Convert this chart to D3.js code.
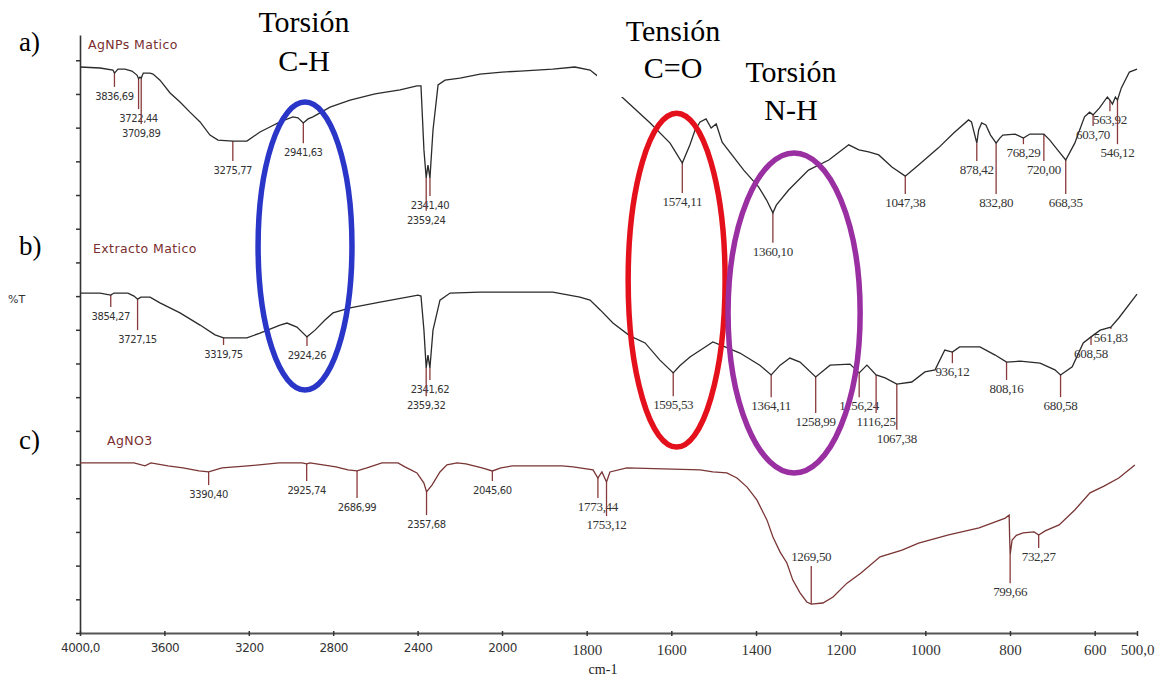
<!DOCTYPE html>
<html>
<head>
<meta charset="utf-8">
<script src="https://cdn.jsdelivr.net/npm/d3@7"></script>
<style>
body { margin: 0; background: #fff; }
svg { display: block; }
</style>
</head>
<body>
<div class="canvas"></div>
<script>
const width = 1159;
const height = 676;

// spectra: [wavenumber cm-1, %T in stacked units]
const specA = [[4000,16.80],[3905,16.77],[3844,16.71],[3836.69,16.62],[3820,16.74],[3787,16.74],[3754,16.68],[3730,16.56],[3722.44,16.45],[3716,16.50],[3709.89,16.47],[3700,16.62],[3668,16.62],[3654,16.59],[3621,16.41],[3573,16.03],[3526,15.76],[3479,15.46],[3431,15.17],[3384,14.78],[3346,14.63],[3275.77,14.60],[3209,14.60],[3147,14.87],[3100,15.02],[3052,15.17],[2991,15.32],[2967,15.29],[2941.63,15.14],[2919,15.26],[2896,15.32],[2815,15.61],[2720,15.82],[2602,16.00],[2483,16.12],[2403,16.24],[2384,16.24],[2370,14.34],[2359.24,13.51],[2351,13.89],[2341.40,13.51],[2327,14.93],[2303,16.27],[2270,16.41],[2199,16.47],[2104,16.59],[2000,16.65],[1957,16.68],[1880,16.74],[1828,16.80],[1792,16.71],[1768,16.47],[1740,16.18],[1709,15.82],[1650,15.14],[1603,14.54],[1574.11,13.95],[1556,14.49],[1544,14.93],[1532,15.17],[1518,15.26],[1506,14.99],[1494,15.11],[1480,14.57],[1429,13.74],[1394,13.24],[1375,12.85],[1360.10,12.47],[1352,12.70],[1323,13.15],[1276,13.74],[1228,14.04],[1181,14.49],[1157,14.34],[1134,14.28],[1110,14.19],[1079,13.83],[1047.38,13.56],[1016,13.89],[969,14.40],[933,14.84],[898,15.23],[891,15.17],[878.42,14.54],[874,14.93],[867,15.14],[857,15.08],[846,14.78],[832.80,14.54],[824,14.69],[817,14.78],[788,14.81],[768.29,14.69],[753,14.81],[720,14.81],[706,14.63],[682,14.25],[668.35,14.04],[647,14.54],[624,15.32],[612,15.46],[603.70,15.38],[589,15.58],[570,15.91],[563.92,15.82],[558,15.70],[551,15.91],[546.12,15.82],[537,16.18],[518,16.65],[500,16.74]];

const specB = [[4000,10.09],[3905,10.09],[3854.27,10.03],[3839,10.09],[3773,10.09],[3744,10.00],[3727.15,9.91],[3711,9.97],[3668,9.97],[3621,9.80],[3526,9.50],[3431,9.14],[3360,8.85],[3319.75,8.76],[3209,8.76],[3147,8.90],[3052,9.14],[3019,9.20],[2972,9.08],[2924.26,8.79],[2886,8.99],[2839,9.29],[2801,9.50],[2720,9.65],[2578,9.82],[2398,10.03],[2384,10.00],[2370,8.99],[2359.32,7.87],[2351,8.25],[2341.62,7.87],[2327,8.99],[2294,9.88],[2246,10.09],[2104,10.12],[2000,10.12],[1880,10.12],[1816,9.97],[1792,9.88],[1768,9.59],[1738,9.20],[1698,8.82],[1662,8.61],[1627,8.10],[1595.53,7.72],[1580,7.93],[1556,8.19],[1520,8.49],[1502,8.64],[1473,8.49],[1438,8.31],[1391,7.95],[1364.11,7.66],[1343,7.95],[1320,8.16],[1296,8.04],[1258.99,7.60],[1225,7.95],[1178,7.98],[1156.24,7.72],[1138,7.95],[1116.25,7.66],[1095,7.57],[1067.38,7.39],[1032,7.45],[1001,7.75],[977,7.81],[954,8.40],[936.12,8.34],[919,8.49],[871,8.49],[835,8.25],[808.16,8.04],[776,8.07],[729,8.01],[694,7.81],[680.58,7.66],[653,7.90],[627,8.61],[608.58,8.79],[587,8.99],[561.83,9.08],[543,9.35],[500,10.06]];

const specC = [[4000,5.05],[3744,5.05],[3692,4.96],[3664,5.05],[3583,4.96],[3512,4.90],[3436,4.81],[3390.40,4.78],[3327,4.90],[3204,4.96],[3057,5.05],[2948,5.05],[2925.74,5.02],[2910,5.05],[2787,4.93],[2730,4.84],[2686.99,4.81],[2640,4.90],[2569,5.05],[2493,5.05],[2460,4.93],[2403,4.75],[2370,4.45],[2357.68,4.19],[2332,4.39],[2294,4.78],[2261,4.99],[2213,5.05],[2171,5.02],[2095,4.90],[2045.60,4.81],[2005,4.90],[1976,4.96],[1858,4.96],[1832,4.93],[1785,4.84],[1773.44,4.60],[1764,4.78],[1753.12,4.48],[1745,4.78],[1705,4.90],[1532,4.84],[1502,4.78],[1469,4.75],[1445,4.60],[1421,4.33],[1398,3.95],[1374,3.35],[1360,2.85],[1343,2.40],[1327,2.08],[1313,1.57],[1296,1.19],[1280,0.92],[1269.50,0.86],[1242,0.89],[1218,1.07],[1185,1.48],[1152,1.78],[1107,2.26],[1055,2.46],[1016,2.67],[945,2.91],[873,3.12],[811,3.41],[802,3.50],[801,2.90],[799.66,2.32],[795,2.76],[785,2.90],[769,2.97],[743,3.00],[732.27,2.91],[717,3.03],[684,3.21],[647,3.65],[611,4.16],[578,4.36],[543,4.60],[505,4.99]];

// peak picks: [wavenumber, label, level where the marker ends]
const peaksA = [[3836.69,"3836,69",16.21],[3722.44,"3722,44",15.55],[3709.89,"3709,89",15.11],[3275.77,"3275,77",14.01],[2941.63,"2941,63",14.54],[2341.40,"2341,40",12.97],[2359.24,"2359,24",12.53],[1574.11,"1574,11",13.06],[1360.10,"1360,10",11.58],[1047.38,"1047,38",13.03],[878.42,"878,42",14.01],[832.80,"832,80",13.03],[768.29,"768,29",14.51],[720.00,"720,00",14.01],[668.35,"668,35",13.03],[603.70,"603,70",15.05],[563.92,"563,92",15.49],[546.12,"546,12",14.51]];
const peaksB = [[3854.27,"3854,27",9.68],[3727.15,"3727,15",8.99],[3319.75,"3319,75",8.55],[2924.26,"2924,26",8.52],[2341.62,"2341,62",7.51],[2359.32,"2359,32",7.03],[1595.53,"1595,53",7.03],[1364.11,"1364,11",7.00],[1258.99,"1258,99",6.53],[1156.24,"1156,24",7.00],[1116.25,"1116,25",6.53],[1067.38,"1067,38",6.03],[936.12,"936,12",8.01],[808.16,"808,16",7.51],[680.58,"680,58",7.00],[608.58,"608,58",8.55],[561.83,"561,83",9.02]];
const peaksC = [[3390.40,"3390,40",4.39],[2925.74,"2925,74",4.51],[2686.99,"2686,99",4.01],[2357.68,"2357,68",3.50],[2045.60,"2045,60",4.51],[1773.44,"1773,44",4.01],[1753.12,"1753,12",3.47],[1269.50,"1269,50",1.99],[799.66,"799,66",1.48],[732.27,"732,27",2.52]];

const seriesNames = ["AgNPs Matico", "Extracto Matico", "AgNO3"];
const panelTags = ["a)", "b)", "c)"];
const xTicks = [4000, 3600, 3200, 2800, 2400, 2000, 1800, 1600, 1400, 1200, 1000, 800, 600, 500];

// highlighted bands: [wn high, wn low, top %T, bottom %T]
const bands = [[3156, 2711, 15.76, 7.21], [1702, 1473, 15.43, 5.52], [1466, 1154, 14.25, 4.75]];
const bandColors = ["#2a36c8", "#e4111c", "#9a2fa2"];

const svg = d3.select(".canvas")
    .append("svg")
    .attr("width", width)
    .attr("height", height)

// the spectrometer expands the scale by 2 below 2000 cm-1
const x = d3.scaleLinear().domain([4000, 2000, 500]).range([80, 502, 1137])
const y = d3.scaleLinear().domain([0, 17.75]).range([633, 35])

const sans = "'DejaVu Sans', Verdana, sans-serif"
const serif = "'Liberation Serif', 'Times New Roman', serif"

// axes
const xAxis = svg.append("g")
    .attr("transform", `translate(0, ${y(0)})`)
    .call(d3.axisBottom(x).tickValues(xTicks).tickSize(3).tickSizeOuter(0)
        .tickFormat(d => (d == 4000 || d == 500) ? d + ",0" : d))
xAxis.select(".domain").attr("stroke", "#555").attr("stroke-width", 2.2)
xAxis.selectAll(".tick line").attr("stroke", "#333").attr("stroke-width", 1.5).attr("y1", -2)
xAxis.selectAll(".tick text")
    .attr("fill", "#333")
    .attr("dy", "0.95em")
    .attr("y", 8)
    .style("font-family", d => d >= 2000 ? sans : serif)
    .style("font-size", d => d >= 2000 ? "12px" : "15px")
    .style("letter-spacing", d => d >= 2000 ? "-0.5px" : "0")

const yAxis = svg.append("g")
    .attr("transform", `translate(${x(4000)}, 0)`)
    .call(d3.axisLeft(y).tickValues(d3.range(0, 18)).tickSize(4).tickSizeOuter(0).tickFormat(""))
yAxis.select(".domain").attr("stroke", "#333").attr("stroke-width", 1.6)
yAxis.selectAll(".tick line").attr("stroke", "#333").attr("stroke-width", 1.5)

svg.append("text").attr("x", 603).attr("y", 674)
    .attr("text-anchor", "middle")
    .style("font-family", serif).style("font-size", "14px").attr("fill", "#222")
    .text("cm-1")

svg.append("text").attr("x", 8).attr("y", 303)
    .style("font-family", sans).style("font-size", "11px").attr("fill", "#333")
    .text("%T")

// spectra
const line = d3.line().x(d => x(d[0])).y(d => y(d[1]))
const spectra = [specA, specB, specC]
const peaks = [peaksA, peaksB, peaksC]
const lineColors = ["#2b2b2b", "#2b2b2b", "#7a3535"]

function valueAt(spec, wn) {
    for (let i = 0; i < spec.length - 1; i++) {
        const [w0, t0] = spec[i], [w1, t1] = spec[i + 1]
        if (wn <= w0 && wn >= w1) return t0 + (t1 - t0) * (w0 - wn) / (w0 - w1)
    }
    return spec[spec.length - 1][1]
}

spectra.forEach((spec, i) => {
    const g = svg.append("g")
    // peak markers
    const pk = g.selectAll(".peak").data(peaks[i]).enter().append("g")
    pk.append("line")
        .attr("x1", d => x(d[0])).attr("x2", d => x(d[0]))
        .attr("y1", d => y(valueAt(spec, d[0]))).attr("y2", d => y(d[2]))
        .attr("stroke", "#8a3a3a").attr("stroke-width", 1.3)
    pk.append("text")
        .attr("x", d => x(d[0]))
        .attr("y", d => d[2] > valueAt(spec, d[0]) ? y(d[2]) - 5 : y(d[2]) + 13)
        .attr("text-anchor", "middle")
        .attr("fill", "#333")
        .style("font-family", d => d[0] >= 2000 ? sans : serif)
        .style("font-size", d => d[0] >= 2000 ? "10px" : "13px")
        .style("letter-spacing", d => d[0] >= 2000 ? "-0.4px" : "-0.3px")
        .text(d => d[1])
    g.append("path")
        .datum(spec)
        .attr("d", line)
        .attr("fill", "none")
        .attr("stroke", lineColors[i])
        .attr("stroke-width", 1.3)
})

// series names and panel tags
const nameY = [49, 253, 445]
const nameX = [88, 93, 107]
seriesNames.forEach((n, i) => {
    svg.append("text").attr("x", nameX[i]).attr("y", nameY[i])
        .style("font-family", sans).style("font-size", "12.5px")
        .style("letter-spacing", "0.4px")
        .attr("fill", "#7a2e2e")
        .text(n)
    svg.append("text").attr("x", 19).attr("y", nameY[i] + (i == 2 ? 4 : 2))
        .style("font-family", serif).style("font-size", "27px")
        .attr("fill", "#000")
        .text(panelTags[i])
})

// highlighted bands
svg.selectAll(".band").data(bands).enter().append("ellipse")
    .attr("cx", d => (x(d[0]) + x(d[1])) / 2)
    .attr("cy", d => (y(d[2]) + y(d[3])) / 2)
    .attr("rx", d => (x(d[1]) - x(d[0])) / 2)
    .attr("ry", d => (y(d[3]) - y(d[2])) / 2)
    .attr("fill", "none")
    .attr("stroke", (d, i) => bandColors[i])
    .attr("stroke-width", 5.5)

// band titles on white boxes
const notes = [
    {x: 304, lines: ["Torsión", "C-H"], box: null},
    {x: 673, lines: ["Tensión", "C=O"], box: [597, 0, 136, 97]},
    {x: 791, lines: ["Torsión", "N-H"], box: [738, 52, 108, 72]}
]
const noteY = [[32, 71], [41, 78], [82, 120]]
notes.forEach((n, i) => {
    if (n.box) svg.append("rect").attr("x", n.box[0]).attr("y", n.box[1])
        .attr("width", n.box[2]).attr("height", n.box[3]).attr("fill", "#fff")
    n.lines.forEach((t, j) => {
        svg.append("text").attr("x", n.x).attr("y", noteY[i][j])
            .attr("text-anchor", "middle")
            .style("font-family", serif).style("font-size", "30px")
            .attr("fill", "#000")
            .text(t)
    })
})
</script>
</body>
</html>
